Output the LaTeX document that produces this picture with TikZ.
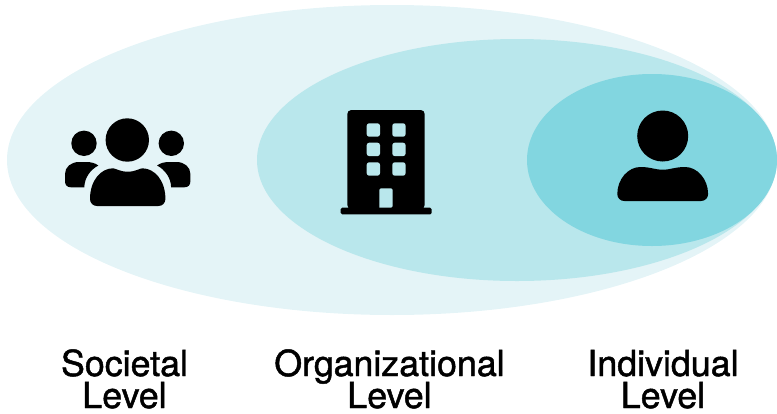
\documentclass[tikz,border=0pt]{standalone}
\usepackage{fontspec}
\setmainfont[FakeBold=1.3]{TeX Gyre Heros}
\definecolor{outerc}{HTML}{E4F4F7}
\definecolor{midc}{HTML}{B9E7EC}
\definecolor{innerc}{HTML}{82D6E0}
\tikzset{
  lvl/.style={align=center,font=\fontsize{35.8}{32}\selectfont,execute at begin node={\lineskiplimit=-40pt\relax},inner sep=0pt,text=black,anchor=base},
  ico/.style={fill=black,draw=none}
}
\newcommand{\bust}[5]{% cx, halfwidth, top, dip, bottom
  \fill[black,rounded corners=0pt] ({#1-#2},{#5-7})
    .. controls ({#1-#2},{#5-3}) and ({#1-#2+3},#5) .. ({#1-#2+7},#5)
    -- ({#1+#2-7},#5)
    .. controls ({#1+#2-3},#5) and ({#1+#2},{#5-3}) .. ({#1+#2},{#5-7})
    .. controls ({#1+#2},{#3+12}) and ({#1+#2-11},#3) .. ({#1+#2-23},#3)
    .. controls ({#1+12},#3) and ({#1+8},#4) .. (#1,#4)
    .. controls ({#1-8},#4) and ({#1-12},#3) .. ({#1-#2+23},#3)
    .. controls ({#1-#2+11},#3) and ({#1-#2},{#3+12}) .. ({#1-#2},{#5-7}) -- cycle;
}
\begin{document}
\begin{tikzpicture}[x=1pt,y=-1pt]
\useasboundingbox (0,0) rectangle (777,413);
% nested ellipses
\fill[outerc] (392,160) ellipse [x radius=385,y radius=155];
\fill[midc] (517,160) ellipse [x radius=260,y radius=121];
\fill[innerc] (652,160) ellipse [x radius=125,y radius=86];
% people icon
\fill[ico] (127.3,140) circle [radius=21.7];
\fill[ico] (84,143.3) circle [radius=12.7];
\fill[ico] (171.3,143.3) circle [radius=12.7];
\bust{127.7}{37.7}{168.3}{171.7}{206}
\fill[ico] (65,181) .. controls (65,185) and (67,187.3) .. (71,187.3) -- (84.3,187.3)
  .. controls (84.5,178) and (90,170) .. (98.3,165.5)
  .. controls (95,163) and (91,162) .. (86,162) -- (79,162)
  .. controls (71,162) and (65,167) .. (65,174) -- cycle;
\fill[ico] (190.4,181) .. controls (190.4,185) and (188.4,187.3) .. (184.4,187.3) -- (171.1,187.3)
  .. controls (170.9,178) and (165.4,170) .. (157.1,165.5)
  .. controls (160.4,163) and (164.4,162) .. (169.4,162) -- (176.4,162)
  .. controls (184.4,162) and (190.4,167) .. (190.4,174) -- cycle;
% building icon
\fill[ico,rounded corners=4pt] (347.3,209) -- (347.3,110) -- (424.7,110) -- (424.7,209) -- cycle;
\fill[ico,rounded corners=1.5pt] (340.7,207.7) rectangle (431.7,214.3);
\foreach \wx in {366.7,392.3}
  \foreach \wy in {123.3,142.7,162.3}
    \fill[midc,rounded corners=2.5pt] (\wx,\wy) rectangle ++(13.3,13.4);
\fill[midc,rounded corners=1.5pt] (379.3,207.7) -- (379.3,188.3) -- (392.7,188.3) -- (392.7,207.7) [sharp corners] -- cycle;
% person icon
\fill[ico] (662.7,136) circle [radius=25.5];
\bust{662.7}{45.4}{167}{169.7}{201}
% labels
\node[lvl] (soc) at (124.5,408) {Societal\\Level};
\node[lvl] (org) at (389.5,408) {Organizational\\Level};
\node[lvl] (ind) at (663,408) {Individual\\Level};
\end{tikzpicture}
\end{document}
